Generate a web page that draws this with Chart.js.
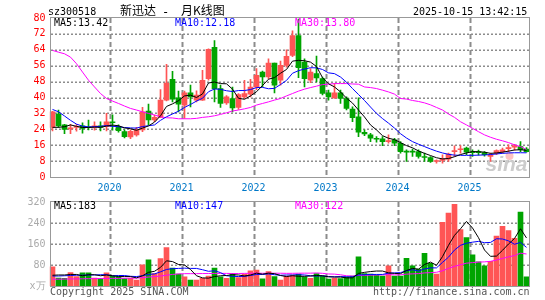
<!DOCTYPE html>
<html><head><meta charset="utf-8">
<script src="https://cdn.jsdelivr.net/npm/chart.js@4.4.1/dist/chart.umd.min.js"></script>
<style>
html,body{margin:0;padding:0;background:#fff;}
#wrap{position:relative;width:545px;height:300px;overflow:hidden;background:#fff;}
canvas{position:absolute;left:0;}
.t{position:absolute;font-family:"DejaVu Sans Mono",monospace;font-size:10px;line-height:10px;white-space:pre;color:#000;}
.cjk{position:absolute;font-family:"Noto Sans CJK SC",sans-serif;font-size:12px;line-height:12px;white-space:pre;color:#000;}
</style></head><body>
<div id="wrap">
<canvas id="pc" width="545" height="196" style="top:0"></canvas>
<canvas id="vc" width="545" height="110" style="top:190px"></canvas>
<span class="t" style="left:48px;top:7px">sz300518</span>
<span class="cjk" style="left:120px;top:4px">新迅达</span>
<span class="t" style="left:162px;top:7px;font-size:12px">-</span>
<span class="cjk" style="left:181px;top:4px">月K线图</span>
<span class="t" style="left:413px;top:7px">2025-10-15 13:42:15</span>
<span class="t" id="pm5" style="left:54px;top:18px;color:#000"></span>
<span class="t" id="pm10" style="left:175px;top:18px;color:#0000ff"></span>
<span class="t" id="pm30" style="left:295px;top:18px;color:#ff00ff"></span>
<span class="t" id="vm5" style="left:54px;top:201px;color:#000"></span>
<span class="t" id="vm10" style="left:175px;top:201px;color:#0000ff"></span>
<span class="t" id="vm30" style="left:295px;top:201px;color:#ff00ff"></span>
<span class="t" style="left:50px;top:287px;color:#555">Copyright 2025 SINA.COM</span>
<span class="t" style="left:373px;top:287px;color:#555">http://finance.sina.com.cn</span>
</div>
<script>
// ---- data (monthly K line, 2019-03 .. 2025-10) ----
const months = ['2019-03','2019-04','2019-05','2019-06','2019-07','2019-08','2019-09','2019-10','2019-11','2019-12',
'2020-01','2020-02','2020-03','2020-04','2020-05','2020-06','2020-07','2020-08','2020-09','2020-10','2020-11','2020-12',
'2021-01','2021-02','2021-03','2021-04','2021-05','2021-06','2021-07','2021-08','2021-09','2021-10','2021-11','2021-12',
'2022-01','2022-02','2022-03','2022-04','2022-05','2022-06','2022-07','2022-08','2022-09','2022-10','2022-11','2022-12',
'2023-01','2023-02','2023-03','2023-04','2023-05','2023-06','2023-07','2023-08','2023-09','2023-10','2023-11','2023-12',
'2024-01','2024-02','2024-03','2024-04','2024-05','2024-06','2024-07','2024-08','2024-09','2024-10','2024-11','2024-12',
'2025-01','2025-02','2025-03','2025-04','2025-05','2025-06','2025-07','2025-08','2025-09','2025-10'];

const open = [25.0,31.7,26.2,24.2,25.0,25.7,25.3,25.0,25.8,25.3,
27.7,25.3,22.8,20.2,21.2,23.7,33.2,28.7,30.0,38.7,
49.2,39.8,36.2,42.3,38.7,38.7,49.5,65.3,44.5,37.3,
39.5,35.0,40.3,41.7,45.3,52.8,50.3,57.3,48.7,56.2,
61.2,71.2,57.8,48.7,52.0,49.5,42.3,39.8,42.3,39.5,
34.2,30.3,22.5,21.2,19.5,19.2,17.8,18.7,17.0,12.8,
12.8,12.8,10.3,9.8,7.8,8.3,9.0,12.8,13.7,14.5,
12.8,12.8,12.3,10.3,12.0,12.8,14.2,15.0,15.3,14.0];
const high = [33.0,33.7,26.5,26.5,26.5,27.3,28.7,27.8,27.8,32.0,
31.3,26.2,23.7,23.7,25.0,35.0,36.7,31.2,44.0,56.7,
53.2,43.2,43.2,46.2,43.3,53.7,64.5,68.7,46.2,41.0,
45.3,42.0,48.7,49.2,54.5,53.3,59.5,57.3,58.3,64.0,
73.5,79.5,59.5,54.5,60.8,50.3,43.7,47.0,43.7,40.3,
35.3,39.8,23.7,22.0,20.3,20.3,21.2,19.5,17.8,13.7,
14.0,13.7,12.0,10.3,8.7,11.2,12.0,15.7,15.8,15.0,
13.7,13.5,12.8,12.0,13.7,14.5,16.2,16.5,17.8,14.8];
const low = [23.2,25.0,21.8,21.8,23.0,22.0,23.7,23.5,23.2,23.2,
23.5,22.5,19.7,19.3,20.5,22.8,26.2,27.8,30.0,38.3,
37.8,32.8,29.5,35.3,37.8,38.5,48.7,37.8,35.0,36.5,
32.8,34.0,39.5,40.3,44.0,45.3,49.5,42.3,46.2,55.3,
60.5,50.0,45.3,47.5,47.8,41.3,38.7,39.5,37.0,33.7,
27.8,20.3,20.8,17.8,17.5,15.8,17.0,15.8,12.0,7.8,
10.3,9.5,7.8,7.3,7.0,7.0,7.8,10.3,12.0,11.2,
10.3,11.0,10.5,7.8,11.2,12.0,12.8,13.5,12.8,12.5];
const close = [32.8,25.7,24.0,24.8,25.5,24.5,24.8,25.8,25.0,27.8,
27.3,23.3,20.3,23.0,23.7,32.8,28.7,30.0,38.7,47.3,
39.2,36.7,42.3,40.3,41.2,48.7,64.2,44.5,37.0,40.3,
34.8,41.5,42.0,45.3,51.2,50.3,57.3,46.2,56.2,60.7,
71.2,55.0,49.5,52.8,49.8,42.0,40.3,42.3,39.5,34.5,
29.8,22.5,21.7,19.5,19.0,17.8,18.3,17.0,12.8,12.5,
12.5,10.3,9.8,7.8,8.3,9.2,11.5,13.3,14.2,12.5,
12.3,12.3,11.2,11.2,13.3,13.7,14.8,15.8,13.7,12.8];
const ma5 = [25.0,25.0,25.3,26.2,25.5,24.9,24.9,25.1,25.0,25.6,
26.1,25.8,24.7,24.3,23.5,24.6,25.7,27.6,30.8,35.5,
36.8,38.4,40.8,41.2,40.0,41.8,47.3,47.8,47.0,46.9,
44.2,39.6,39.1,40.8,42.9,46.0,49.2,50.0,52.2,54.1,
58.3,58.7,58.5,57.8,55.6,50.0,46.9,45.3,42.8,39.7,
37.2,33.7,30.2,26.2,23.7,20.8,19.5,18.8,17.3,15.8,
14.7,13.1,11.9,10.8,9.7,9.1,9.3,10.2,11.3,12.1,
12.8,12.7,12.5,11.9,12.1,12.5,13.0,13.6,13.7,13.42];
const ma10 = [34.0,32.8,30.7,28.5,26.6,25.6,25.2,25.3,25.5,25.9,
25.5,25.3,24.9,24.7,24.6,25.4,25.8,26.2,28.5,30.3,
31.7,33.1,35.0,36.5,38.2,39.6,42.9,44.3,44.1,43.4,
43.0,43.5,43.5,44.0,45.0,45.1,44.4,44.6,46.5,48.6,
52.2,53.5,54.3,55.0,54.9,54.1,52.4,52.0,50.3,47.7,
44.5,41.5,38.5,35.2,32.0,29.4,27.1,24.6,21.8,19.6,
17.8,16.5,15.3,14.1,13.0,12.1,11.4,11.0,10.9,10.9,
10.9,11.0,11.1,11.3,11.6,11.9,12.1,12.2,12.2,12.18];
const ma30 = [63.7,62.8,62.0,60.3,57.0,52.8,48.7,45.3,42.0,39.5,
38.2,37.0,35.7,34.5,33.7,32.8,32.0,31.2,30.3,29.8,
29.7,29.3,29.3,29.3,29.5,30.0,30.3,30.8,31.5,32.3,
33.2,33.7,34.3,35.0,36.2,37.0,37.8,38.7,39.5,40.8,
42.0,43.2,44.2,45.0,45.7,46.5,46.7,47.0,47.0,47.0,
46.8,46.7,45.3,45.0,44.5,43.7,42.8,41.7,39.5,39.2,
38.5,38.0,37.3,36.3,35.0,33.7,31.7,30.0,27.8,26.2,
24.5,22.8,21.2,20.0,19.0,18.2,17.3,16.2,15.3,13.80];
const volume = [73,30,29,51,36,50,50,30,28,50,
38,35,28,29,23,81,100,47,104,146,
68,45,35,23,23,29,38,68,35,29,
47,32,45,58,61,27,55,36,23,38,
42,45,35,29,47,38,26,29,28,35,
38,111,47,45,42,38,77,38,38,105,
77,64,124,86,45,243,278,311,215,184,
119,92,77,94,190,227,211,182,282,35];
const vma5 = [41,42,42,44,44,39,43,43,39,42,
39,36,36,36,31,39,52,56,71,96,
93,82,80,63,39,31,30,36,39,40,
43,42,38,42,49,45,49,47,40,36,
39,37,37,38,40,39,35,34,34,31,
31,48,52,55,57,57,50,48,47,59,
67,64,82,91,79,112,155,193,218,246,
221,184,137,113,114,136,160,181,218,183];
const vma10 = [38,38,39,40,41,41,42,42,43,43,
39,40,40,37,36,39,44,46,54,63,
66,67,68,67,67,62,56,58,51,39,
37,36,37,40,44,44,46,43,41,42,
42,43,42,39,38,39,36,35,36,35,
35,42,43,44,44,44,49,50,51,58,
62,57,65,69,69,90,110,137,155,163,
167,170,165,166,180,179,172,159,166,147];
const vma30 = [26,26,26.5,27,27,27.5,28,28,28.5,29,
29,29,29.5,30,30,32,34,36,38,41,
44,46,47,47,47,47.5,47.5,48,48,48,
47.5,47.6,48.1,48.3,49.2,48.4,48.6,48.8,48.6,48.2,
48.3,48.7,48.9,48.9,49.7,48.3,45.8,45.2,42.7,39,
38,40.2,40.6,41.3,41.9,42.2,43.5,42.5,42.6,45.2,
46.2,47.2,49.9,50.8,52.3,58,67,75,81,87,
89,91,92,94,99,105,111,116,125,122];
const priceTicks = {min:0, max:80, step:8};
const volTicks = {min:0, max:320, step:80, unit:'x万'};

// ---- derived ----
const N = months.length;
const yearStarts = months.map((m,i)=>m.endsWith('-01')?i:-1).filter(i=>i>=0);
const yearLabels = yearStarts.map(i=>months[i].slice(0,4));
const UP='#ff5555', DN='#00a400';
const cc = close.map((c,i)=> c>=open[i]?UP:DN);
const pts = arr => arr.map((v,i)=>({x:i,y:v}));
const last = arr => arr[arr.length-1];

document.getElementById('pm5').textContent = 'MA5:'+last(ma5).toFixed(2);
document.getElementById('pm10').textContent = 'MA10:'+last(ma10).toFixed(2);
document.getElementById('pm30').textContent = 'MA30:'+last(ma30).toFixed(2);
document.getElementById('vm5').textContent = 'MA5:'+last(vma5);
document.getElementById('vm10').textContent = 'MA10:'+last(vma10);
document.getElementById('vm30').textContent = 'MA30:'+last(vma30);

Chart.defaults.font.family = '"DejaVu Sans Mono", monospace';
Chart.defaults.font.size = 10;
Chart.defaults.animation = false;

const frame = {id:'frame', afterDraw(c){
  const {ctx, chartArea:a} = c;
  ctx.save(); ctx.strokeStyle='#999'; ctx.lineWidth=1;
  const l=Math.round(a.left)+0.5, r=Math.round(a.right)-0.5, t=Math.round(a.top)-0.5, b=Math.round(a.bottom)+0.5;
  ctx.strokeRect(l,t,r-l,b-t); ctx.restore();
}};
// dotted horizontal / dashed vertical grid, placed from the scales' own ticks
const gridlines = {id:'gridlines', beforeDatasetsDraw(c){
  const {ctx, chartArea:a} = c;
  const xs = c.scales.x, ys = c.scales.y;
  const L = Math.round(a.left)+1, R = Math.round(a.right)-1, T = Math.round(a.top), B = Math.round(a.bottom);
  ctx.save(); ctx.fillStyle='#8c8c8c';
  ys.ticks.forEach(t=>{
    const py = Math.round(ys.getPixelForValue(t.value));
    if (py <= T || py >= B) return;
    for (let x=L; x<R; x+=4) ctx.fillRect(x, py-0.5, 2, 1.5);
  });
  xs.ticks.forEach(t=>{
    const px = Math.round(xs.getPixelForValue(t.value));
    for (let y=T; y<B; y+=8) ctx.fillRect(px-0.5, y, 2, Math.min(5, B-y));
  });
  ctx.restore();
}};
const mark = {id:'mark', beforeDatasetsDraw(c){
  const {ctx, chartArea:a} = c;
  ctx.save(); ctx.font='italic bold 21px "Liberation Sans", sans-serif';
  ctx.fillStyle='#cccccc'; ctx.textAlign='right'; ctx.textBaseline='alphabetic';
  ctx.fillText('sina', a.right-2, a.bottom-6);
  ctx.fillStyle='rgba(255,120,120,0.45)';
  ctx.beginPath(); ctx.arc(a.right-20, a.bottom-21, 4, 0, Math.PI*2); ctx.fill();
  ctx.restore();
}};

function xAxis(showLabels, h){
  return {
    type:'linear', min:-0.5, max:N-0.5, offset:false, bounds:'data',
    afterBuildTicks: s => { s.ticks = yearStarts.map(i=>({value:i-0.5})); },
    ticks:{display:showLabels, autoSkip:false, maxRotation:0, color:'#0078c8', padding:5,
      callback:(v,i)=>yearLabels[i]},
    grid:{display:false, drawTicks:false},
    border:{display:false},
    afterFit: s => { s.height = h; }
  };
}
function line(data, color, order){
  return {type:'line', data:pts(data), borderColor:color, borderWidth:1, pointRadius:0, tension:0, order};
}

new Chart(document.getElementById('pc'), {
  type:'bar',
  data:{datasets:[
    line(ma5,'#000000',0), line(ma10,'#0000ff',1), line(ma30,'#ff00ff',2),
    {type:'bar', data:open.map((o,i)=>({x:i,y:[o,close[i]]})), backgroundColor:cc, barThickness:5, minBarLength:1, grouped:false, order:3},
    {type:'bar', data:low.map((l,i)=>({x:i,y:[l,high[i]]})), backgroundColor:cc, barThickness:1, grouped:false, order:4}
  ]},
  options:{
    responsive:false, devicePixelRatio:1,
    layout:{padding:{top:18,right:15.5,left:0,bottom:0}},
    plugins:{legend:{display:false}, tooltip:{enabled:false}},
    scales:{
      x: xAxis(true, 19),
      y: {type:'linear', min:priceTicks.min, max:priceTicks.max, position:'left',
        ticks:{stepSize:priceTicks.step, color:'#ff0000', padding:4},
        grid:{display:false, drawTicks:false},
        border:{display:false},
        afterFit: s=>{ s.width=49.5; }}
    }
  },
  plugins:[gridlines, mark, frame]
});

new Chart(document.getElementById('vc'), {
  type:'bar',
  data:{datasets:[
    line(vma5,'#000000',0), line(vma10,'#0000ff',1), line(vma30,'#ff00ff',2),
    {type:'bar', data:pts(volume), backgroundColor:cc, barThickness:5, grouped:false, order:3}
  ]},
  options:{
    responsive:false, devicePixelRatio:1,
    layout:{padding:{top:12,right:15.5,left:0,bottom:0}},
    plugins:{legend:{display:false}, tooltip:{enabled:false}},
    scales:{
      x: xAxis(false, 14),
      y: {type:'linear', min:volTicks.min, max:volTicks.max, position:'left',
        ticks:{stepSize:volTicks.step, color:'#aaaaaa', padding:4,
          callback:v=> v===0 ? volTicks.unit : v},
        grid:{display:false, drawTicks:false},
        border:{display:false},
        afterFit: s=>{ s.width=49.5; }}
    }
  },
  plugins:[gridlines, frame]
});
</script>
</body></html>
